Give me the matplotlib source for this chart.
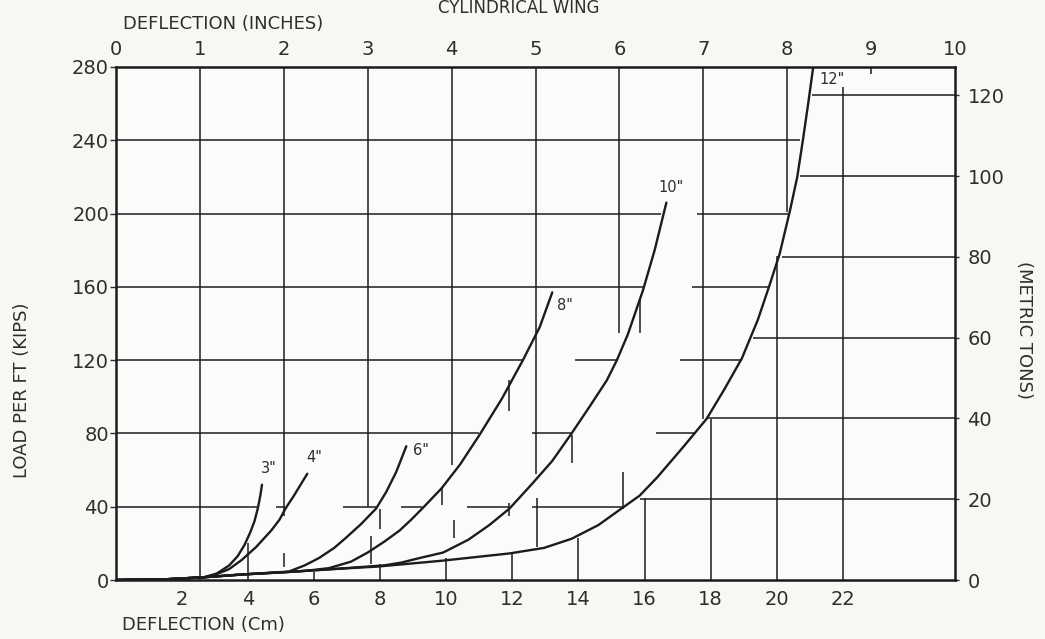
import matplotlib
matplotlib.use("Agg")
import matplotlib.pyplot as plt

CM_PER_INCH = 2.54
KIPS_PER_TON = 2.2046

# load / deflection curves, deflection in inches, load in kips per ft
curve_labels = ['3"', '4"', '6"', '8"', '10"', '12"']
curve_3_x = [0, 0.6, 1.05, 1.2, 1.35, 1.45, 1.53, 1.6, 1.65, 1.69, 1.72, 1.74]
curve_3_y = [0, 0.4, 1.5, 3.5, 8, 13, 19, 26, 32, 39, 46, 52]
curve_4_x = [0, 0.6, 1.05, 1.2, 1.35, 1.5, 1.67, 1.85, 1.95, 2.02, 2.12, 2.2, 2.28]
curve_4_y = [0, 0.4, 1.5, 3.2, 6, 11, 18, 27, 33, 39, 46, 52, 58]
curve_6_x = [0, 0.6, 1.05, 1.5, 2.06, 2.25, 2.42, 2.6, 2.74, 2.92, 3.10, 3.22, 3.34, 3.46]
curve_6_y = [0, 0.4, 1.5, 3, 4.6, 8, 12, 17.5, 23, 30.5, 39, 48, 59, 73]
curve_8_x = [0, 0.6, 1.05, 1.5, 2.06, 2.3, 2.54, 2.8, 3.0, 3.2, 3.38, 3.52, 3.65, 3.88,
             4.1, 4.33, 4.6, 4.85, 5.05, 5.2]
curve_8_y = [0, 0.4, 1.5, 3, 4.4, 5.2, 6.5, 10, 15, 21, 27, 33, 39, 50,
             63, 79, 99, 120, 138, 157]
curve_10_x = [0, 0.6, 1.05, 1.5, 2.06, 2.6, 3.2, 3.4, 3.62, 3.9, 4.2, 4.45, 4.69, 4.95,
              5.2, 5.43, 5.65, 5.85, 5.97, 6.1, 6.28, 6.42, 6.56]
curve_10_y = [0, 0.4, 1.5, 3, 4.4, 6, 8, 9.5, 12, 15, 22, 30, 39, 52,
              65, 80, 95, 109, 120, 134, 158, 180, 206]
curve_12_x = [0, 0.6, 1.05, 1.5, 2.06, 2.6, 3.11, 3.88, 4.69, 5.1, 5.43, 5.75, 6.04, 6.24,
              6.45, 6.75, 7.04, 7.25, 7.46, 7.65, 7.79, 7.91, 8.03, 8.12, 8.19, 8.25, 8.31]
curve_12_y = [0, 0.4, 1.5, 3, 4.4, 6, 7.3, 10.5, 14.5, 17.5, 22.5, 30, 39.5, 46,
              56, 72, 88, 104, 121, 142, 161, 178, 201, 220, 241, 260, 280]
label_x = [1.82, 2.36, 3.64, 5.35, 6.62, 8.54]
label_y = [60.6, 66.6, 70.9, 150, 214, 273]

# kips grid lines, pieces between the curves: (level, from inch, to inch)
kips_lines = [(240, 0, 8.15),
              (200, 0, 6.50), (200, 6.93, 8.03),
              (160, 0, 6.28), (160, 6.87, 7.79),
              (120, 0, 4.85), (120, 5.47, 5.97), (120, 6.72, 7.46),
              (80, 0, 4.33), (80, 4.96, 5.43), (80, 6.44, 6.91),
              (40, 0, 1.68), (40, 1.91, 2.02), (40, 2.70, 3.10), (40, 3.40, 3.65),
              (40, 4.18, 4.69), (40, 4.96, 6.04)]
# inch grid lines from the top down to a curve: (inch, lowest kips)
inch_lines = [(1, 0), (2, 35), (3, 40), (4, 63), (5, 58), (6, 135), (7, 88), (8, 201), (9, 276)]
# cm grid lines from the bottom up to a curve: (cm, highest kips)
cm_lines = [(4, 20), (6, 4.5), (8, 9), (10, 12), (12, 15), (14, 23), (16, 45),
            (18, 88), (20, 177), (22, 269)]
# metric ton lines from the right edge back to the 12" curve: (tons, from inch)
ton_lines = [(20, 6.24), (40, 7.04), (60, 7.59), (80, 7.94), (100, 8.15), (120, 8.29)]
# short marks where the grid meets the curves: (inch, kips from, kips to)
marks = [(2.0, 7, 15), (3.04, 9, 24), (3.15, 28, 39), (3.88, 41, 51), (4.03, 23, 33),
         (4.69, 35, 42), (4.69, 92, 109), (5.02, 18, 45), (5.43, 64, 79),
         (6.04, 39, 59), (6.24, 135, 154)]

plt.rcParams['font.family'] = ['DejaVu Sans']
ink = '#1c1c1c'
txt = '#2e2e2e'

fig = plt.figure(figsize=(10.45, 6.39), dpi=100, facecolor='#f8f7f4')
ax = fig.add_axes([116 / 1045, 59 / 639, 839 / 1045, 513 / 639])
ax.set_facecolor('#fbfbf9')
ax.set_xlim(0, 10)
ax.set_ylim(0, 280)

grid_kw = dict(color=ink, lw=1.1, solid_capstyle='butt')
for k, x0, x1 in kips_lines:
    ax.plot([x0, x1], [k, k], **grid_kw)
for x, k0 in inch_lines:
    ax.plot([x, x], [k0, 280], **grid_kw)
for c, k1 in cm_lines:
    ax.plot([c / CM_PER_INCH] * 2, [0, k1], **grid_kw)
for t, x0 in ton_lines:
    ax.plot([x0, 10], [t * KIPS_PER_TON] * 2, **grid_kw)
for x, k0, k1 in marks:
    ax.plot([x, x], [k0, k1], **grid_kw)

curves = [(curve_3_x, curve_3_y), (curve_4_x, curve_4_y), (curve_6_x, curve_6_y),
          (curve_8_x, curve_8_y), (curve_10_x, curve_10_y), (curve_12_x, curve_12_y)]
for (cx, cy), lab, lx, ly in zip(curves, curve_labels, label_x, label_y):
    ax.plot(cx, cy, color=ink, lw=1.7, solid_joinstyle='round', solid_capstyle='round')
    ax.text(lx, ly, lab, fontsize=10.5, color=txt, ha='center', va='center')

for s in ax.spines.values():
    s.set_linewidth(1.8)
    s.set_color(ink)

ax.set_yticks(range(0, 281, 40))
ax.tick_params(axis='y', length=4, width=1, labelsize=14, colors=txt, pad=1)
ax.xaxis.tick_top()
ax.set_xticks(range(0, 11))
ax.tick_params(axis='x', length=0, labelsize=14, colors=txt, pad=6)

cm_ax = ax.secondary_xaxis('bottom', functions=(lambda x: x * CM_PER_INCH, lambda c: c / CM_PER_INCH))
cm_ax.set_xticks(range(2, 23, 2))
cm_ax.tick_params(length=0, labelsize=14, colors=txt, pad=7)
cm_ax.spines['bottom'].set_visible(False)

ton_ax = ax.secondary_yaxis('right', functions=(lambda k: k / KIPS_PER_TON, lambda t: t * KIPS_PER_TON))
ton_ax.set_yticks(range(0, 121, 20))
ton_ax.tick_params(length=3, width=1, labelsize=14, colors=txt, pad=6)
ton_ax.spines['right'].set_visible(False)

fig.text(519 / 1045, 1 - 8 / 639, 'CYLINDRICAL WING', fontsize=12, color=txt, ha='center', va='center')
fig.text(123 / 1045, 1 - 24 / 639, 'DEFLECTION (INCHES)', fontsize=13, color=txt, ha='left', va='center')
fig.text(122 / 1045, 1 - 625 / 639, 'DEFLECTION (Cm)', fontsize=13, color=txt, ha='left', va='center')
fig.text(22 / 1045, 1 - 390 / 639, 'LOAD PER FT (KIPS)', fontsize=13, color=txt, rotation=90,
         ha='center', va='center')
fig.text(1024 / 1045, 1 - 330 / 639, '(METRIC TONS)', fontsize=13, color=txt, rotation=-90,
         ha='center', va='center')

fig.savefig('out.png', dpi=100, facecolor=fig.get_facecolor())
